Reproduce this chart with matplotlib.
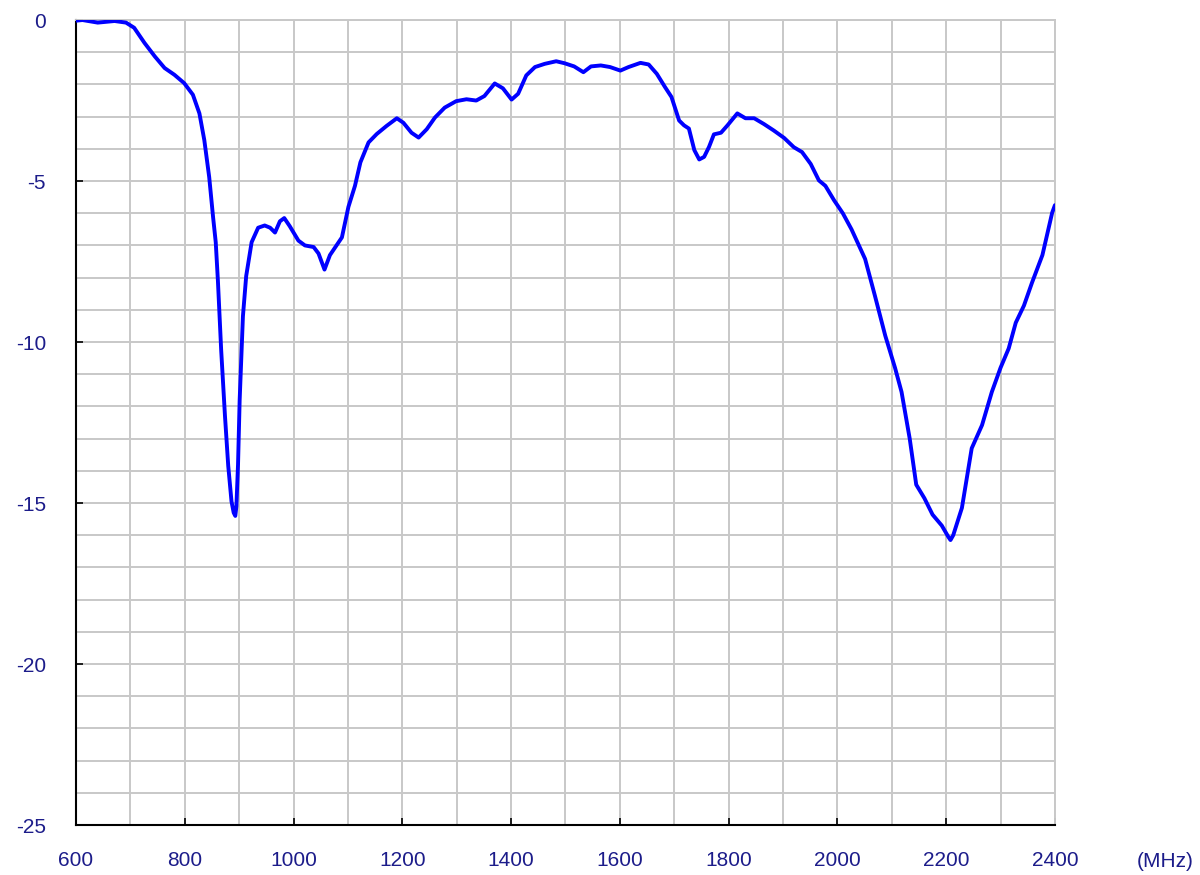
import matplotlib
matplotlib.use("Agg")
import matplotlib.pyplot as plt
from matplotlib.ticker import MultipleLocator

plt.rcParams["font.family"] = ["Liberation Sans", "DejaVu Sans"]
plt.rcParams["axes.unicode_minus"] = False

# return loss trace (MHz, dB)
freq = [600, 612, 640, 671, 692, 707, 726, 745, 763, 781, 799, 815, 827, 836,
        845, 852, 857, 861, 867, 874, 880, 886, 890, 893, 895, 898, 901, 907,
        913, 923, 935, 947, 957, 966, 975, 983, 993, 1009, 1021, 1037, 1046,
        1057, 1067, 1077, 1089, 1101, 1113, 1123, 1138, 1153, 1171, 1190, 1202,
        1217, 1230, 1245, 1260, 1278, 1299, 1318, 1336, 1351, 1370, 1385, 1401,
        1413, 1428, 1444, 1462, 1483, 1498, 1516, 1533, 1547, 1565, 1582, 1601,
        1616, 1638, 1653, 1668, 1683, 1695, 1709, 1718, 1727, 1737, 1746, 1755,
        1764, 1773, 1786, 1798, 1816, 1831, 1847, 1865, 1883, 1902, 1920, 1935,
        1951, 1966, 1978, 1994, 2010, 2026, 2051, 2069, 2088, 2106, 2118, 2133,
        2145, 2160, 2175, 2192, 2204, 2208, 2213, 2229, 2247, 2266, 2284, 2300,
        2315, 2328, 2343, 2358, 2377, 2395, 2400]
s11 = [-0.02, 0.0, -0.08, -0.03, -0.08, -0.24, -0.71, -1.13, -1.49, -1.7,
       -1.96, -2.32, -2.9, -3.73, -4.88, -6.1, -6.9, -8.1, -10.25, -12.3,
       -13.85, -14.95, -15.3, -15.4, -15.1, -13.8, -11.8, -9.2, -7.95, -6.9,
       -6.45, -6.38, -6.45, -6.6, -6.25, -6.15, -6.4, -6.85, -7.0, -7.05,
       -7.25, -7.75, -7.3, -7.05, -6.75, -5.8, -5.15, -4.42, -3.8, -3.54,
       -3.29, -3.05, -3.19, -3.5, -3.65, -3.39, -3.03, -2.72, -2.52, -2.46,
       -2.5, -2.36, -1.97, -2.12, -2.47, -2.29, -1.72, -1.46, -1.36, -1.28,
       -1.34, -1.44, -1.62, -1.44, -1.41, -1.46, -1.57, -1.46, -1.33, -1.38,
       -1.67, -2.08, -2.39, -3.12, -3.27, -3.37, -4.04, -4.33, -4.25, -3.94,
       -3.55, -3.5, -3.27, -2.9, -3.05, -3.05, -3.23, -3.43, -3.66, -3.95,
       -4.1, -4.47, -4.98, -5.15, -5.6, -6.0, -6.5, -7.42, -8.56, -9.8,
       -10.8, -11.55, -13.0, -14.43, -14.85, -15.36, -15.7, -16.05, -16.15,
       -16.0, -15.15, -13.3, -12.58, -11.55, -10.8, -10.2, -9.4, -8.87, -8.15,
       -7.3, -5.98, -5.75]

x_ticks = [600, 800, 1000, 1200, 1400, 1600, 1800, 2000, 2200, 2400]
y_ticks = [0, -5, -10, -15, -20, -25]

label_color = "#1c1c8a"
grid_color = "#c8c8c8"

fig = plt.figure(figsize=(12, 8.75), dpi=100)
ax = fig.add_axes([0.0633, 0.0571, 0.8158, 0.9200])

ax.plot(freq, s11, color="#0000ff", linewidth=2.8, solid_joinstyle="round",
        solid_capstyle="round", zorder=3)

ax.set_xlim(600, 2400)
ax.set_ylim(-25, 0)
ax.set_xticks(x_ticks)
ax.set_yticks(y_ticks)
ax.xaxis.set_minor_locator(MultipleLocator(100))
ax.yaxis.set_minor_locator(MultipleLocator(1))
ax.grid(which="both", color=grid_color, linewidth=1.4)
ax.set_axisbelow(True)

ax.tick_params(which="major", direction="in", length=5, width=1.2,
               color="black", labelsize=15, labelcolor=label_color)
ax.tick_params(which="minor", length=0)
ax.tick_params(axis="x", pad=19)
ax.tick_params(axis="y", pad=21.5)

for side in ("left", "bottom"):
    ax.spines[side].set_color("black")
    ax.spines[side].set_linewidth(1.5)
for side in ("top", "right"):
    ax.spines[side].set_color(grid_color)
    ax.spines[side].set_linewidth(1.4)

fig.text(0.971, 0.0263, "(MHz)", color=label_color, fontsize=15,
         ha="center", va="top")

fig.savefig("out.png", dpi=100)
